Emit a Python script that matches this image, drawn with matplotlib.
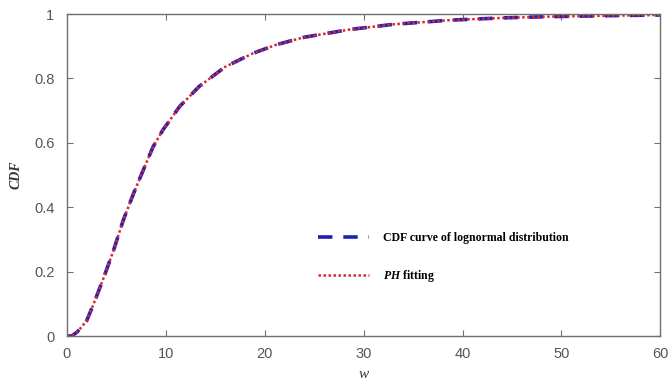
# CDF of a lognormal distribution and its PH fit.

import matplotlib
matplotlib.use('Agg')
import matplotlib.pyplot as plt

TICK_GREY = "#555555"
SPINE_GREY = "#707070"
BLUE = "#2020b8"
RED = "#d8262e"

w_values = [0, 0.5, 1, 1.5, 2, 2.7, 3.7, 4.7, 5.7, 6.7, 7.7, 8.7, 9.7,
            11.4, 13.4, 16, 18.8, 21.2, 24, 28.6, 33, 38.7, 44, 48.8, 55, 60]
lognormal_cdf = [0, 0.001, 0.012, 0.028, 0.048, 0.1, 0.18, 0.265, 0.36, 0.44,
                 0.514, 0.587, 0.64, 0.713, 0.776, 0.836, 0.878, 0.905, 0.928,
                 0.952, 0.968, 0.981, 0.988, 0.992, 0.995, 0.997]
ph_cdf = [0, 0.002, 0.013, 0.029, 0.049, 0.1, 0.18, 0.265, 0.36, 0.44,
          0.514, 0.587, 0.64, 0.713, 0.776, 0.836, 0.878, 0.905, 0.928,
          0.952, 0.968, 0.981, 0.988, 0.992, 0.995, 0.997]

x_ticks = [0, 10, 20, 30, 40, 50, 60]
y_ticks = [0, 0.2, 0.4, 0.6, 0.8, 1]
y_tick_labels = ["0", "0.2", "0.4", "0.6", "0.8", "1"]

plt.rcParams['mathtext.fontset'] = 'custom'
plt.rcParams['mathtext.it'] = 'Liberation Serif:italic:bold'
plt.rcParams['mathtext.rm'] = 'Liberation Serif:bold'

fig = plt.figure(figsize=(6.69, 3.9), dpi=100, facecolor="white")
ax = fig.add_axes([0.1, 0.138, 0.887, 0.826])

ax.plot(w_values, lognormal_cdf, color=BLUE, lw=2.6, ls=(0, (4, 3)),
        label="CDF curve of lognormal distribution")
ax.plot(w_values, ph_cdf, color=RED, lw=1.8, ls=(0, (1, 1)),
        label="$PH$ fitting")

ax.set_xlim(0, 60)
ax.set_ylim(0, 1)
ax.set_xticks(x_ticks)
ax.set_yticks(y_ticks)
ax.set_yticklabels(y_tick_labels)
ax.tick_params(direction="in", top=True, right=True, length=4, width=0.8,
               colors=SPINE_GREY, labelcolor=TICK_GREY, labelsize=10.5)
ax.tick_params(axis="y", pad=9)
ax.tick_params(axis="x", pad=8)
for lab in ax.get_xticklabels() + ax.get_yticklabels():
    lab.set_fontfamily("Liberation Sans")
for sp in ax.spines.values():
    sp.set_color(SPINE_GREY)
    sp.set_linewidth(1.0)

ax.set_xlabel("w", fontfamily="Liberation Serif", fontstyle="italic",
              fontsize=11, color="#333333", labelpad=5)
ax.set_ylabel("CDF", fontfamily="Liberation Serif", fontstyle="italic",
              fontweight="bold", fontsize=10, color="#333333", labelpad=8)

leg = ax.legend(loc="upper left", bbox_to_anchor=(0.405, 0.355), frameon=False,
                handlelength=4.3, handletextpad=1.2, labelspacing=2.0,
                prop={"family": "Liberation Serif", "weight": "bold", "size": 8.5})

fig.savefig("out.png", dpi=100, facecolor="white")
